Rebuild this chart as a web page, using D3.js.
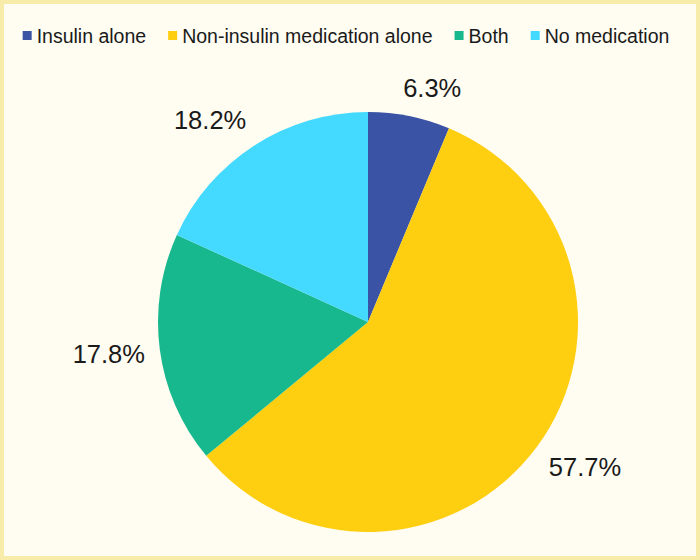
<!DOCTYPE html>
<html>
<head>
<meta charset="utf-8">
<script src="https://cdn.jsdelivr.net/npm/d3@7"></script>
<style>
  html, body { margin: 0; padding: 0; background: #fffcf1; }
  svg { display: block; font-family: "Liberation Sans", Arial, sans-serif; }
</style>
</head>
<body>
<svg id="chart"></svg>
<script>
const categories = ["Insulin alone", "Non-insulin medication alone", "Both", "No medication"];
const shares = [6.3, 57.7, 17.8, 18.2];
const sliceColors = ["#3a53a4", "#fece10", "#18b88e", "#44d9fe"];

const width = 700;
const height = 560;
const radius = 210;
const cx = 368;
const cy = 322;

const svg = d3.select("#chart").attr("width", width).attr("height", height);

// background + soft border
svg.append("rect")
  .attr("x", 2).attr("y", 2)
  .attr("width", width - 4).attr("height", height - 4)
  .attr("fill", "#fffcf1")
  .attr("stroke", "#f7eca9")
  .attr("stroke-width", 4);

const data = categories.map((c, i) => ({ name: c, value: shares[i], color: sliceColors[i] }));

const pie = d3.pie().sort(null).value(d => d.value);
const arc = d3.arc().innerRadius(0).outerRadius(radius);
const arcs = pie(data);

const g = svg.append("g").attr("transform", `translate(${cx},${cy})`);

g.selectAll("path.slice")
  .data(arcs)
  .join("path")
  .attr("class", "slice")
  .attr("d", arc)
  .attr("fill", d => d.data.color);

// outside-end labels: the box corner facing the pie sits just outside the arc
const labels = g.selectAll("text.lbl")
  .data(arcs)
  .join("text")
  .attr("class", "lbl")
  .attr("text-anchor", "middle")
  .attr("dy", "0.35em")
  .style("font-size", "25.5px")
  .style("fill", "#1a1a1a")
  .text(d => d.data.value.toFixed(1) + "%");

labels.each(function (d) {
  const t = d3.select(this);
  const w = this.getComputedTextLength() / 2;
  const h = 13;
  const a = (d.startAngle + d.endAngle) / 2;
  const s = Math.sin(a), c = Math.cos(a);
  const r = radius + 15;
  const px = r * s, py = -r * c;
  const ox = w * Math.sign(s) * Math.min(1, Math.abs(s) * 3.5);
  const oy = -h * Math.sign(c) * Math.min(1, Math.abs(c) * 1.5);
  t.attr("x", px + ox).attr("y", py + oy);
});

// legend, laid out in a row and centred
const legend = svg.append("g");
const items = legend.selectAll("g.item")
  .data(data)
  .join("g")
  .attr("class", "item");

items.append("rect")
  .attr("width", 9).attr("height", 9)
  .attr("y", -12)
  .attr("fill", d => d.color);

items.append("text")
  .attr("x", 14)
  .style("font-size", "19.5px")
  .style("fill", "#1a1a1a")
  .text(d => d.name);

let xPos = 0;
const gap = 22;
items.each(function () {
  const item = d3.select(this);
  const tw = item.select("text").node().getComputedTextLength();
  item.attr("transform", `translate(${xPos},0)`);
  xPos += 14 + tw + gap;
});
const legendWidth = xPos - gap;
legend.attr("transform", `translate(${(width - legendWidth) / 2 - 4},43)`);
</script>
</body>
</html>
